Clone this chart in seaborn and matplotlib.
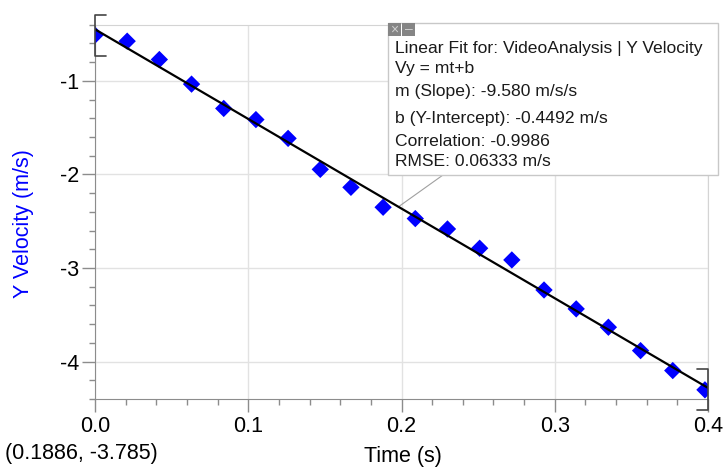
import matplotlib
matplotlib.use("Agg")
import matplotlib.pyplot as plt
import matplotlib.ticker as mticker
from matplotlib.patches import Rectangle
import seaborn as sns
import numpy as np
import pandas as pd

# data
time_s = [0.000, 0.021, 0.042, 0.063, 0.084, 0.105, 0.126, 0.147, 0.167, 0.188,
          0.209, 0.230, 0.251, 0.272, 0.293, 0.314, 0.335, 0.356, 0.377, 0.398]
y_vel = [-0.512, -0.576, -0.772, -1.035, -1.295, -1.414, -1.615, -1.946, -2.138, -2.351,
         -2.472, -2.583, -2.789, -2.914, -3.235, -3.437, -3.633, -3.883, -4.096, -4.302]
fit_slope = -9.580
fit_intercept = -0.4492
fit_range = [0.0, 0.4]

fit_lines = ["Linear Fit for: VideoAnalysis | Y Velocity",
             "Vy = mt+b",
             "m (Slope): -9.580 m/s/s",
             "b (Y-Intercept): -0.4492 m/s",
             "Correlation: -0.9986",
             "RMSE: 0.06333 m/s"]
cursor_text = "(0.1886, -3.785)"

sns.set_style("white")
plt.rcParams['font.family'] = ['Liberation Sans', 'DejaVu Sans']
plt.rcParams['axes.unicode_minus'] = False

df = pd.DataFrame({'t': time_s, 'vy': y_vel})
df_fit = pd.DataFrame({'t': fit_range})
df_fit['vy'] = fit_intercept + fit_slope * df_fit['t']

W, H = 728, 468
fig = plt.figure(figsize=(W / 100, H / 100), dpi=100)
ax = fig.add_axes([95 / W, 1 - 399 / H, 613 / W, 374.3 / H])

sns.scatterplot(data=df, x='t', y='vy', marker='D', s=78, color='#0000ff',
                edgecolor='none', ax=ax, zorder=3)
sns.lineplot(data=df_fit, x='t', y='vy', color='black', lw=1.6, ax=ax, zorder=4)

ax.set_xlim(0, 0.4)
ax.set_ylim(-4.4, -0.4)
ax.xaxis.set_major_locator(mticker.MultipleLocator(0.1))
ax.xaxis.set_minor_locator(mticker.MultipleLocator(0.02))
ax.yaxis.set_major_locator(mticker.MultipleLocator(1))
ax.yaxis.set_minor_locator(mticker.MultipleLocator(0.2))
ax.xaxis.set_major_formatter(mticker.FormatStrFormatter('%.1f'))
ax.yaxis.set_major_formatter(mticker.FormatStrFormatter('%d'))

ax.grid(True, which='major', color='#e2e2e2', lw=1)
ax.tick_params(which='major', direction='out', length=9.5, width=1, color='#8c8c8c',
               labelsize=15.5, labelcolor='black', pad=2)
ax.tick_params(which='minor', direction='out', length=4.5, width=1, color='#8c8c8c')
ax.tick_params(axis='x', which='major', pad=2.5)
ax.tick_params(left=True, bottom=True, which='both')
for side in ['left', 'bottom']:
    ax.spines[side].set_color('#8c8c8c')
for side in ['top', 'right']:
    ax.spines[side].set_color('#d4d4d4')

ax.set_xlabel('Time (s)', fontsize=15.5, color='black', va='top')
ax.xaxis.set_label_coords(0.502, -0.125)
ax.set_ylabel('Y Velocity (m/s)', fontsize=15.5, color='#0000ff')
ax.yaxis.set_label_coords(-0.1, 0.47)

# selection brackets at both ends of the fit range
btr = ax.get_xaxis_transform()
tick_w = 11 / 1532.5
ax.plot([fit_range[0] + tick_w, fit_range[0], fit_range[0], fit_range[0] + tick_w],
        [1.026, 1.026, 0.916, 0.916], transform=btr, color='#444444', lw=1.2,
        clip_on=False, zorder=5)
ax.plot([fit_range[1] - tick_w, fit_range[1], fit_range[1], fit_range[1] - tick_w],
        [0.080, 0.080, -0.029, -0.029], transform=btr, color='#444444', lw=1.2,
        clip_on=False, zorder=5)

# leader line from the fit box to the line
t_ptr = 0.198
ax.annotate('', xy=(t_ptr, fit_intercept + fit_slope * t_ptr),
            xytext=(443 / W, 1 - 175 / H), textcoords='figure fraction',
            arrowprops=dict(arrowstyle='-', color='#a0a0a0', lw=0.8,
                            shrinkA=0, shrinkB=0))

# fit box
box = Rectangle((388 / W, 1 - 175 / H), 330 / W, 152 / H, transform=fig.transFigure,
                facecolor='white', edgecolor='#c8c8c8', lw=1, zorder=6)
fig.add_artist(box)
for i, sym in enumerate(['×', '–']):
    fig.add_artist(Rectangle(((388 + 14 * i) / W, 1 - 36 / H), 13 / W, 13 / H,
                             transform=fig.transFigure, facecolor='#858585',
                             edgecolor='none', zorder=7))
    fig.text((394.5 + 14 * i) / W, 1 - 29.5 / H, sym, ha='center', va='center',
             fontsize=10, color='#d0d0d0', zorder=8)

line_y = [49, 69, 91.5, 119, 141.5, 161.5]
for txt, yy in zip(fit_lines, line_y):
    fig.text(395 / W, 1 - yy / H, txt, ha='left', va='center', fontsize=12.6,
             color='#1a1a1a', zorder=8)

fig.text(5 / W, 1 - 453 / H, cursor_text, ha='left', va='center', fontsize=15.5,
         color='black')

fig.savefig('out.png', dpi=100)
